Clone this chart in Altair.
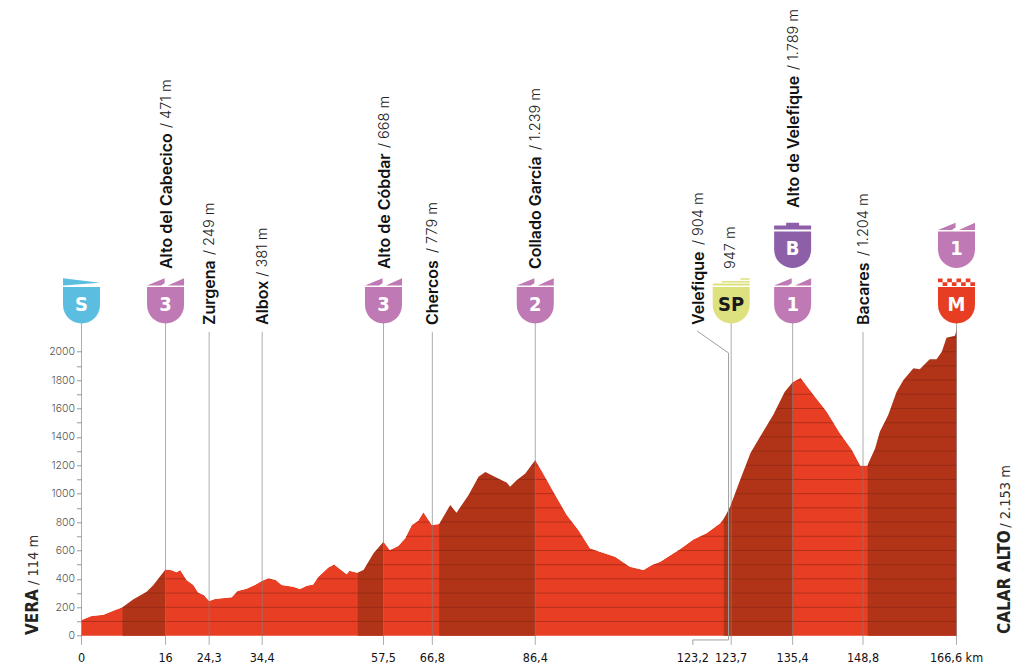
import altair as alt
import pandas as pd

# profile
profile_km = [0, 1.9, 4.2, 6.4, 7.8, 9.9, 12.4, 13.7, 14.9, 16, 17.2, 18.1, 18.8, 20, 21.3, 22.2, 23.3, 24.3,
              25.4, 26.7, 28.6, 29.7, 31.4, 33, 34.4, 35.6, 37, 38.1, 40.3, 41.6, 42.9, 44.1, 45.1, 47, 48.1,
              49.2, 50.5, 51, 52.5, 53.7, 55.6, 57.5, 58.7, 60.3, 61.6, 62.9, 64.1, 65.1, 66.7, 68.1, 70.2,
              71.4, 73.7, 75.6, 76.9, 78.4, 81, 81.6, 82.9, 84.5, 86.4, 87.9, 90.2, 92.4, 94.6, 96.8, 98.7,
              101.6, 104.4, 107, 108.6, 110.2, 114, 116.5, 119, 121.6, 122.5, 123.5, 125.4, 127.4, 129.2,
              131.7, 133.9, 135.4, 136.9, 139.4, 141.9, 144.4, 146.7, 148.3, 149.6, 151.1, 152, 153.6, 155.2,
              156.5, 158.4, 159.6, 161.5, 162.8, 163.8, 164.7, 166.3, 166.6]
profile_m = [110, 138, 148, 181, 200, 256, 310, 357, 415, 467, 460, 446, 462, 392, 357, 305, 286, 244,
             258, 263, 270, 315, 331, 357, 387, 404, 392, 357, 345, 329, 352, 361, 415, 481, 502,
             470, 432, 458, 444, 462, 580, 662, 603, 631, 685, 779, 810, 869, 779, 786, 920,
             866, 990, 1120, 1153, 1124, 1077, 1049, 1096, 1143, 1237, 1143, 990, 850, 744, 615, 592,
             556, 486, 462, 498, 521, 610, 678, 721, 791, 838, 908, 1096, 1289, 1401,
             1554, 1718, 1784, 1817, 1695, 1577, 1425, 1307, 1197, 1197, 1319, 1437, 1554, 1718,
             1800, 1883, 1876, 1946, 1946, 2000, 2099, 2113, 2150]

# climbs, darker bands
band_start = [7.8, 52.6, 68.1, 122.3, 149.7]
band_end = [16, 57.5, 86.4, 135.4, 166.6]

# labels along the route
label_name = ["Alto del Cabecico", "Zurgena", "Albox", "Alto de Cóbdar", "Chercos", "Collado García",
              "Velefique", "Alto de Velefique", "Bacares"]
label_alt = ["/ 471 m", "/ 249 m", "/ 381 m", "/ 668 m", "/ 779 m", "/ 1.239 m", "/ 904 m", "/ 1.789 m", "/ 1.204 m"]
label_km = [16.3, 24.5, 34.6, 57.7, 67, 86.6, 117.6, 135.6, 149]
label_base = [2582, 2188, 2188, 2582, 2188, 2582, 2188, 3012, 2188]
label_alt_base = [3575, 2681, 2528, 3434, 2695, 3420, 2751, 3984, 2674]

# km ticks
tick_km = [0, 16, 24.3, 34.4, 57.5, 66.8, 86.4, 123.7, 135.4, 148.8, 166.6]
tick_rule_top = [2202, 2202, 2140, 2140, 2202, 2140, 2202, 2202, 2202, 2140, 2202]
tick_text = ["0", "16", "24,3", "34,4", "57,5", "66,8", "86,4", "123,7", "135,4", "148,8", "166,6 km"]
extra_tick_km = [116.4]
extra_tick_text = ["123,2"]

# badges
shield_km = [0, 16, 57.5, 86.4, 123.7, 135.4, 135.4, 166.6, 166.6]
shield_row = [2359, 2359, 2359, 2359, 2359, 2359, 2750, 2359, 2750]
shield_text = ["S", "3", "3", "2", "SP", "1", "B", "M", "1"]
shield_kind = ["start", "climb", "climb", "climb", "sprint", "climb", "bonus", "finish", "climb"]

colors = {"start": "#5bbde0", "climb": "#bf79b4", "sprint": "#dde27e", "bonus": "#8e5fa9", "finish": "#e73d23"}

BODY = "M-1,-0.74 L1,-0.74 L1,0.22 C1,0.85 0.5,1.23 0,1.23 C-0.5,1.23 -1,0.85 -1,0.22 Z"
checks = ""
for i in range(8):
    x0 = -1 + i * 0.25
    y0 = -1.2 if i % 2 == 0 else -1.0
    checks += f"M{x0},{y0} L{x0 + 0.25},{y0} L{x0 + 0.25},{y0 + 0.2} L{x0},{y0 + 0.2} Z "
flags = {
    "start": "M-1,-1.21 L1,-0.97 L-1,-0.82 Z",
    "climb": "M-1,-0.82 L-0.05,-1.21 L-0.05,-0.95 L-0.25,-0.82 Z M0.13,-0.82 L1,-1.21 L1,-0.82 Z",
    "sprint": "M0.5,-1.21 L1,-1.21 L1,-1.13 L0.5,-1.13 Z M-0.5,-1.07 L1,-1.07 L1,-0.99 L-0.5,-0.99 Z M-1,-0.93 L1,-0.93 L1,-0.82 L-1,-0.82 Z",
    "bonus": "M-1,-1.07 L-0.35,-1.07 L-0.35,-1.21 L0.35,-1.21 L0.35,-1.07 L1,-1.07 L1,-0.85 L-1,-0.85 Z",
    "finish": checks,
}

NARROW = "DejaVu Sans Condensed, Liberation Sans"
TOP = 2200

x_scale = alt.Scale(domain=[0, 166.6], nice=False, zero=False)
y_scale = alt.Scale(domain=[0, TOP], nice=False)
x_enc = alt.X("km:Q", scale=x_scale, axis=None)
y_enc = alt.Y("m:Q", scale=y_scale, title=None, axis=alt.Axis(
    values=list(range(0, 2001, 100)), labelExpr="datum.value % 200 == 0 ? datum.value : ''",
    domain=False, grid=False, tickSize=5, tickColor="#999999", labelColor="#555555", labelFont="Inter",
    labelFontWeight=300, labelFontSize=10.5, labelPadding=2, labelOverlap=False))

prof = pd.DataFrame({"km": profile_km, "m": profile_m, "top": TOP})
area = alt.Chart(prof).mark_area(color="#e83e24", line=False, interpolate="linear").encode(x=x_enc, y=y_enc)

# bands and grid run up under the mask
bands = alt.Chart(pd.DataFrame({"km": band_start, "km2": band_end, "m": 0, "top": 2170})).mark_rect(color="#b13418").encode(
    x=x_enc, x2="km2:Q", y=y_enc, y2="top:Q")

grid = alt.Chart(pd.DataFrame({"m": list(range(100, 2200, 100))})).mark_rule(color="#7d2412", strokeWidth=0.7, opacity=0.75).encode(
    y=y_enc, x=alt.value(0), x2=alt.value(875))

mask = alt.Chart(prof).mark_area(color="white", interpolate="linear").encode(
    x=x_enc, y=y_enc, y2="top:Q")

rules_df = pd.DataFrame({"km": tick_km, "m": -65, "top": tick_rule_top})
rules = alt.Chart(rules_df).mark_rule(color="#808080", opacity=0.65, strokeWidth=1).encode(
    x=x_enc, y=y_enc, y2="top:Q")

leader_df = pd.DataFrame({"km": [116.4, 116.4, 123.2, 123.2, 117.2], "m": [-65, -30, -30, 1991, 2146], "step": [0, 1, 2, 3, 4]})
leader = alt.Chart(leader_df).mark_line(color="#a0a0a0", strokeWidth=1).encode(
    x=x_enc, y=y_enc, order="step:Q")

tick_df = pd.DataFrame({"km": tick_km + extra_tick_km, "t": tick_text + extra_tick_text, "m": -185})
ticks = alt.Chart(tick_df).mark_text(font=NARROW, fontSize=12.5, color="#111111", baseline="alphabetic").encode(
    x=x_enc, y=y_enc, text="t:N")

names_df = pd.DataFrame({"km": label_km, "m": label_base, "t": label_name})
names = alt.Chart(names_df).mark_text(font="Inter", fontWeight=600, fontSize=16, color="#111111", angle=270,
                                      align="left", baseline="middle").encode(
    x=x_enc, y=y_enc, text="t:N")

alts_df = pd.DataFrame({"km": label_km + [123.7], "m": label_alt_base + [2582], "t": label_alt + ["947 m"]})
alts = alt.Chart(alts_df).mark_text(font="Inter", fontWeight=300, fontSize=14.5, color="#222222", angle=270,
                                    align="left", baseline="middle").encode(
    x=x_enc, y=y_enc, text="t:N")

# end names, rotated, condensed
ends_bold_df = pd.DataFrame({"km": [-8.3, 176.8], "m": [5, 12], "t": ["VERA", "CALAR ALTO"]})
ends_light_df = pd.DataFrame({"km": [-8.3, 176.8], "m": [357, 760], "t": ["/ 114 m", "/ 2.153 m"]})
ends = alt.Chart(ends_bold_df).mark_text(font=NARROW, fontWeight="bold", fontSize=17, color="#222222", angle=270,
                                         align="left", baseline="alphabetic").encode(
    x=x_enc, y=y_enc, text="t:N")
ends2 = alt.Chart(ends_light_df).mark_text(font=NARROW, fontSize=14.5, color="#333333", angle=270,
                                           align="left", baseline="alphabetic").encode(
    x=x_enc, y=y_enc, text="t:N")

shield_df = pd.DataFrame({"km": shield_km, "m": shield_row, "t": shield_text, "kind": shield_kind})
shield_layers = []
for kind, col in colors.items():
    sub = shield_df[shield_df.kind == kind]
    shield_layers.append(alt.Chart(sub).mark_point(shape=BODY, size=1369, filled=True, opacity=1, color=col).encode(
        x=x_enc, y=y_enc))
    shield_layers.append(alt.Chart(sub).mark_point(shape=flags[kind], size=1369, filled=True, opacity=1, color=col).encode(
        x=x_enc, y=y_enc))

shield_txt = alt.Chart(shield_df[shield_df.kind != "sprint"]).mark_text(
    font=NARROW, fontWeight="bold", fontSize=20, color="white", dy=4).encode(
    x=x_enc, y=y_enc, text="t:N")
sp_txt = alt.Chart(shield_df[shield_df.kind == "sprint"]).mark_text(
    font=NARROW, fontWeight="bold", fontSize=20, color="#1a1a1a", dy=4).encode(
    x=x_enc, y=y_enc, text="t:N")

chart = alt.layer(area, bands, grid, mask, rules, leader, ticks, names, alts, ends, ends2,
                  *shield_layers, shield_txt, sp_txt).properties(
    width=875, height=312.4, background="white",
    padding={"left": 73.5, "top": 315.3, "right": 59.5, "bottom": 30},
    autosize=alt.AutoSizeParams(type="none"),
).configure_view(stroke=None)

chart.save("out.html", embed_options={"renderer": "svg", "actions": False})
